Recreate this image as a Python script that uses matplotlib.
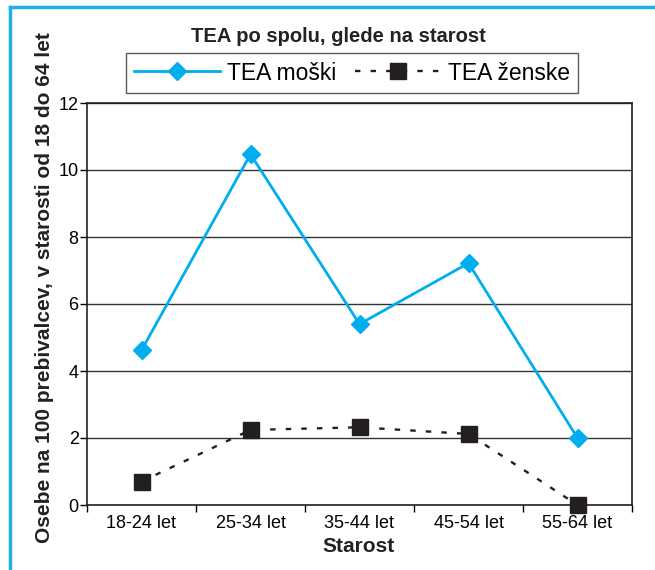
import matplotlib
matplotlib.use("Agg")
import matplotlib.pyplot as plt
from matplotlib.lines import Line2D

plt.rcParams["font.family"] = ["Liberation Sans", "DejaVu Sans"]

# data
categories = ["18-24 let", "25-34 let", "35-44 let", "45-54 let", "55-64 let"]
tea_moski = [4.62, 10.47, 5.40, 7.22, 2.0]
tea_zenske = [0.70, 2.24, 2.32, 2.12, 0.0]
y_ticks = [0, 2, 4, 6, 8, 10, 12]

title = "TEA po spolu, glede na starost"
y_label = "Osebe na 100 prebivalcev, v starosti od 18 do 64 let"
x_label = "Starost"

cyan = "#00AEEF"
dark = "#231F20"

fig = plt.figure(figsize=(6.55, 5.70), dpi=100)
ax = fig.add_axes([87 / 655, 65 / 570, 545 / 655, 402 / 570])

x = list(range(len(categories)))
ax.plot(x, tea_moski, color=cyan, lw=2.0, marker="D", ms=9.5,
        mfc=cyan, mec=cyan, label="TEA moški", clip_on=False, zorder=4)
ax.plot(x, tea_zenske, color=dark, lw=1.7, ls=(0, (2.3, 4.3)), marker="s",
        ms=11, mfc=dark, mec=dark, label="TEA ženske", clip_on=False, zorder=4)

ax.set_xlim(-0.5, len(categories) - 0.5)
ax.set_ylim(0, 12)
ax.set_yticks(y_ticks)
ax.set_xticks(x)
ax.set_xticklabels(categories)
ax.set_xticks([i + 0.5 for i in range(-1, len(categories))], minor=True)
ax.tick_params(axis="x", which="major", length=0, labelsize=13, pad=7)
ax.tick_params(axis="x", which="minor", length=5, width=1, direction="out")
ax.tick_params(axis="y", length=5, width=1, labelsize=13, pad=1)
ax.grid(axis="y", color="#333333", lw=1.0)
ax.set_axisbelow(True)
for s in ax.spines.values():
    s.set_color("#222222")
    s.set_linewidth(1.2)

fig.text(338 / 655, 1 - 36 / 570, title, ha="center", va="center",
         fontsize=14.5, fontweight="bold", color="#222222")
fig.text(45 / 655, 1 - 288 / 570, y_label, ha="center", va="center",
         rotation=90, fontsize=15, fontweight="bold", color="#222222")
fig.text(359 / 655, 1 - 546 / 570, x_label, ha="center", va="center",
         fontsize=15, fontweight="bold", color="#222222")

leg = fig.legend(loc="center", bbox_to_anchor=(352 / 655, 1 - 73 / 570),
                 ncol=2, fontsize=16.5, frameon=True, fancybox=False,
                 handlelength=3.75, handletextpad=0.3, columnspacing=0.8,
                 borderpad=0.35, numpoints=1)
leg.get_frame().set_edgecolor("#333333")
leg.get_frame().set_linewidth(1.0)

# blue frame on the left and top
fig.add_artist(Line2D([10 / 655, 10 / 655], [0, 1 - 7 / 570],
                      color="#1FAEE8", lw=2.5, transform=fig.transFigure))
fig.add_artist(Line2D([10 / 655, 1], [1 - 7 / 570, 1 - 7 / 570],
                      color="#1FAEE8", lw=2.5, transform=fig.transFigure))

fig.savefig("out.png", dpi=100)
